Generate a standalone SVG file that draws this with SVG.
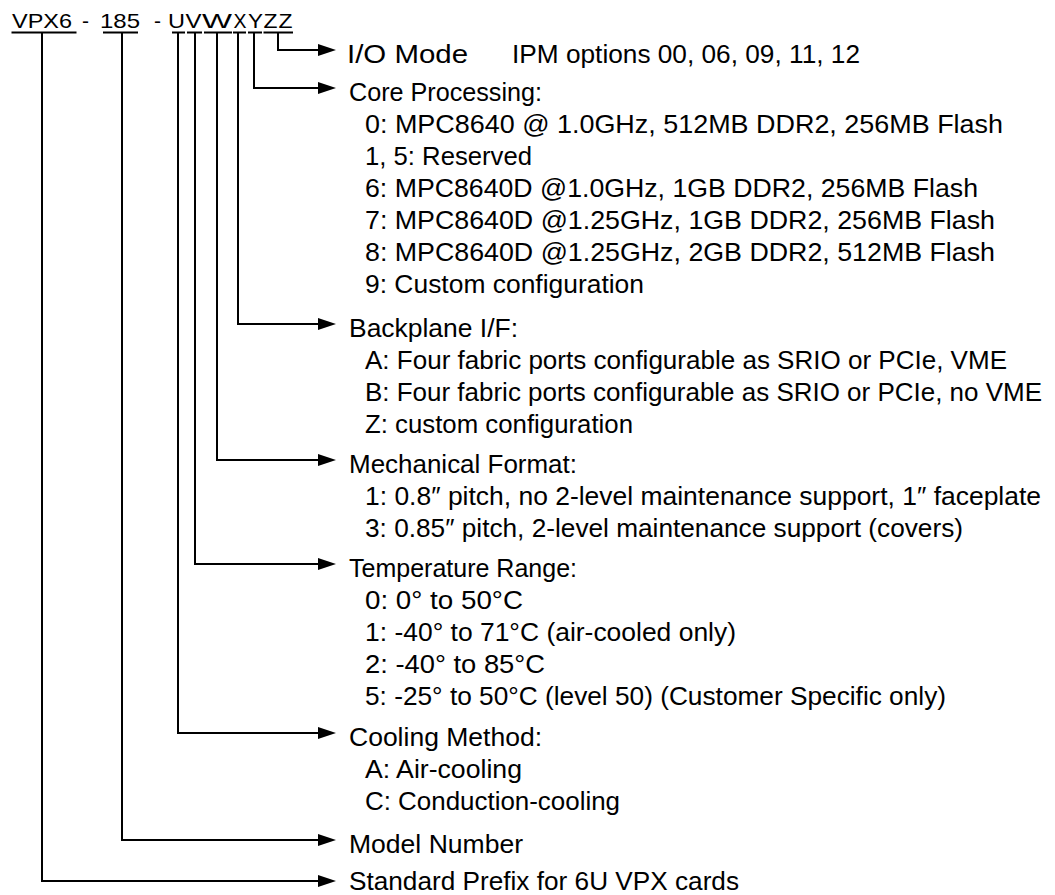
<svg xmlns="http://www.w3.org/2000/svg" width="1055" height="895" viewBox="0 0 1055 895">
<style>
text{font-family:"Liberation Sans",Arial,sans-serif;fill:#000}
.pn{font-size:21px}
.t{font-size:25px}
.c{fill:none;stroke:#000;stroke-width:2}
.u{stroke:#000;stroke-width:2}
</style>
<defs>
<marker id="ah" viewBox="0 0 18 12" markerWidth="18" markerHeight="12" markerUnits="userSpaceOnUse" refX="0" refY="6" orient="auto">
<path d="M0,0 L18,6 L0,12 z" fill="#000"/>
</marker>
</defs>
<rect width="1055" height="895" fill="#fff"/>
<g id="part-number">
<text class="pn" y="28"><tspan x="12" textLength="60" lengthAdjust="spacingAndGlyphs">VPX6</tspan><tspan x="82">-</tspan><tspan x="100" textLength="40" lengthAdjust="spacingAndGlyphs">185</tspan><tspan x="154">-</tspan><tspan x="168" textLength="17" lengthAdjust="spacingAndGlyphs">U</tspan><tspan x="185.5" textLength="16" lengthAdjust="spacingAndGlyphs">V</tspan><tspan x="202" textLength="30" lengthAdjust="spacingAndGlyphs">W</tspan><tspan x="233.5" textLength="13" lengthAdjust="spacingAndGlyphs">X</tspan><tspan x="248" textLength="15" lengthAdjust="spacingAndGlyphs">Y</tspan><tspan x="263.5" textLength="14" lengthAdjust="spacingAndGlyphs">Z</tspan><tspan x="278.5" textLength="14" lengthAdjust="spacingAndGlyphs">Z</tspan></text>
<line class="u" x1="11.5" y1="32.5" x2="76.5" y2="32.5"/>
<line class="u" x1="103" y1="32.5" x2="138" y2="32.5"/>
<line class="u" x1="172" y1="32.5" x2="185" y2="32.5"/>
<line class="u" x1="187" y1="32.5" x2="202" y2="32.5"/>
<line class="u" x1="204" y1="32.5" x2="232" y2="32.5"/>
<line class="u" x1="233" y1="32.5" x2="246" y2="32.5"/>
<line class="u" x1="248" y1="32.5" x2="262" y2="32.5"/>
<line class="u" x1="263.5" y1="32.5" x2="293" y2="32.5"/>
</g>
<g id="connectors">
<path class="c" d="M278 32.5 V50 H318" marker-end="url(#ah)"/>
<path class="c" d="M254 32.5 V88 H318" marker-end="url(#ah)"/>
<path class="c" d="M238 32.5 V324 H318" marker-end="url(#ah)"/>
<path class="c" d="M217 32.5 V460 H318" marker-end="url(#ah)"/>
<path class="c" d="M195 32.5 V564 H318" marker-end="url(#ah)"/>
<path class="c" d="M178 32.5 V733 H318" marker-end="url(#ah)"/>
<path class="c" d="M122 32.5 V840 H318" marker-end="url(#ah)"/>
<path class="c" d="M42 32.5 V881 H318" marker-end="url(#ah)"/>
</g>
<g id="io-mode">
<text class="t" x="347" y="62.5" textLength="121" lengthAdjust="spacingAndGlyphs">I/O Mode</text>
<text class="t" x="512" y="62.5" textLength="348" lengthAdjust="spacingAndGlyphs">IPM options 00, 06, 09, 11, 12</text>
</g>
<g id="core-processing">
<text class="t" x="349" y="100.5" textLength="193" lengthAdjust="spacingAndGlyphs">Core Processing:</text>
<text class="t" x="365" y="132.5" textLength="638" lengthAdjust="spacingAndGlyphs">0: MPC8640 @ 1.0GHz, 512MB DDR2, 256MB Flash</text>
<text class="t" x="365" y="164.5" textLength="167" lengthAdjust="spacingAndGlyphs">1, 5: Reserved</text>
<text class="t" x="365" y="196.5" textLength="613" lengthAdjust="spacingAndGlyphs">6: MPC8640D @1.0GHz, 1GB DDR2, 256MB Flash</text>
<text class="t" x="365" y="228.5" textLength="630" lengthAdjust="spacingAndGlyphs">7: MPC8640D @1.25GHz, 1GB DDR2, 256MB Flash</text>
<text class="t" x="365" y="260.5" textLength="630" lengthAdjust="spacingAndGlyphs">8: MPC8640D @1.25GHz, 2GB DDR2, 512MB Flash</text>
<text class="t" x="365" y="292.5" textLength="279" lengthAdjust="spacingAndGlyphs">9: Custom configuration</text>
</g>
<g id="backplane">
<text class="t" x="349" y="336.5" textLength="169" lengthAdjust="spacingAndGlyphs">Backplane I/F:</text>
<text class="t" x="365" y="368.5" textLength="642" lengthAdjust="spacingAndGlyphs">A: Four fabric ports configurable as SRIO or PCIe, VME</text>
<text class="t" x="365" y="400.5" textLength="677" lengthAdjust="spacingAndGlyphs">B: Four fabric ports configurable as SRIO or PCIe, no VME</text>
<text class="t" x="365" y="432.5" textLength="268" lengthAdjust="spacingAndGlyphs">Z: custom configuration</text>
</g>
<g id="mechanical">
<text class="t" x="349" y="472.5" textLength="228" lengthAdjust="spacingAndGlyphs">Mechanical Format:</text>
<text class="t" x="365" y="504.5" textLength="676" lengthAdjust="spacingAndGlyphs">1: 0.8″ pitch, no 2-level maintenance support, 1″ faceplate</text>
<text class="t" x="365" y="536.5" textLength="598" lengthAdjust="spacingAndGlyphs">3: 0.85″ pitch, 2-level maintenance support (covers)</text>
</g>
<g id="temperature">
<text class="t" x="349" y="576.5" textLength="228" lengthAdjust="spacingAndGlyphs">Temperature Range:</text>
<text class="t" x="365" y="608.5" textLength="158" lengthAdjust="spacingAndGlyphs">0: 0° to 50°C</text>
<text class="t" x="365" y="640.5" textLength="371" lengthAdjust="spacingAndGlyphs">1: -40° to 71°C (air-cooled only)</text>
<text class="t" x="365" y="672.5" textLength="180" lengthAdjust="spacingAndGlyphs">2: -40° to 85°C</text>
<text class="t" x="365" y="704.5" textLength="581" lengthAdjust="spacingAndGlyphs">5: -25° to 50°C (level 50) (Customer Specific only)</text>
</g>
<g id="cooling">
<text class="t" x="349" y="745.5" textLength="193" lengthAdjust="spacingAndGlyphs">Cooling Method:</text>
<text class="t" x="365" y="777.5" textLength="157" lengthAdjust="spacingAndGlyphs">A: Air-cooling</text>
<text class="t" x="365" y="809.5" textLength="255" lengthAdjust="spacingAndGlyphs">C: Conduction-cooling</text>
</g>
<g id="model">
<text class="t" x="349" y="852.5" textLength="174" lengthAdjust="spacingAndGlyphs">Model Number</text>
</g>
<g id="prefix">
<text class="t" x="349" y="890" textLength="390" lengthAdjust="spacingAndGlyphs">Standard Prefix for 6U VPX cards</text>
</g>
</svg>
